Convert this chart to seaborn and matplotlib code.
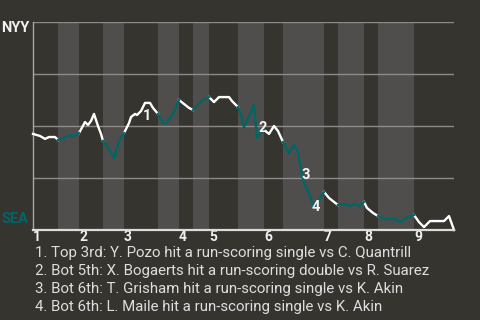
import matplotlib
matplotlib.use("Agg")
import matplotlib.pyplot as plt
import seaborn as sns
import pandas as pd
import numpy as np

# ---- data ----
# game progress (arbitrary units along the x axis) and NYY win probability (%)
progress = [0, 7, 12, 16, 22, 25,
            31, 35, 37, 39, 43, 46,
            52, 55, 58, 61, 65, 68, 70,
            76, 81, 86, 91,
            96, 98, 102, 104, 108, 112, 117, 120, 125,
            130, 133, 138, 142, 146,
            151, 156, 160,
            165, 170, 176,
            181, 186, 196, 199, 205,
            208, 211, 215, 221, 224, 228, 231,
            236, 241, 245, 250,
            256, 261, 265, 269, 272, 277, 281, 291,
            296, 301, 305,
            312, 317, 322, 326, 331,
            334, 340, 345,
            352, 362, 367, 373, 381,
            386, 391, 397, 411, 416, 421]
nyy_wp = [46.2, 45.2, 43.8, 44.7, 44.7, 43.3,
          44.2, 45.2, 45.7, 44.7, 45.7, 46.6,
          51.9, 50.5, 52.4, 55.8, 50.0, 46.2, 42.8,
          38.9, 34.6, 42.8, 46.6,
          51.4, 54.3, 55.8, 55.3, 57.2, 61.1, 61.1, 58.7, 55.8,
          51.4, 51.4, 54.3, 57.7, 62.5,
          60.6, 58.7, 57.7,
          60.1, 62.5, 63.9,
          61.5, 63.9, 63.9, 62.0, 59.1,
          55.3, 49.5, 53.4, 60.1, 44.2, 47.1, 48.1,
          46.2, 50.0, 47.6, 42.3,
          37.0, 40.9, 37.5, 26.4, 21.6, 16.3, 11.1, 18.3,
          15.4, 13.5, 12.0,
          12.5, 11.5, 12.5, 11.5, 13.5,
          10.6, 8.2, 6.7,
          5.3, 5.3, 3.8, 5.8, 7.2,
          3.8, 1.4, 4.3, 4.3, 6.7, 0.0]

# half-inning boundaries along the progress axis
top_starts = [0, 46, 91, 146, 176, 231, 291, 331, 381]
bot_starts = [25, 70, 125, 160, 205, 250, 305, 345]
game_end = 421
inning_labels = ["1", "2", "3", "4", "5", "6", "7", "8", "9"]

# key plays: index into the arrays above and their descriptions
event_idx = [28, 52, 62, 65]
event_text = [
    "1. Top 3rd: Y. Pozo hit a run-scoring single vs C. Quantrill",
    "2. Bot 5th: X. Bogaerts hit a run-scoring double vs R. Suarez",
    "3. Bot 6th: T. Grisham hit a run-scoring single vs K. Akin",
    "4. Bot 6th: L. Maile hit a run-scoring single vs K. Akin",
]
team_top = "NYY"
team_bottom = "SEA"

# ---- styling ----
BG = "#36342f"
BAND = "#4f4e4c"
TEAL = "#006666"
WHITE = "#ffffff"
GRID = "#8c8b88"
TXT = "#dedede"

plt.rcParams["font.family"] = ["Roboto", "DejaVu Sans"]

fig = plt.figure(figsize=(4.8, 3.2), dpi=100, facecolor=BG)
ax = fig.add_axes([33 / 480, 90 / 320, 421 / 480, 208 / 320])
ax.set_facecolor(BG)

# build half-inning segments
bounds = sorted([(s, "top") for s in top_starts] + [(s, "bot") for s in bot_starts])
rows = []
for i, (start, half) in enumerate(bounds):
    end = bounds[i + 1][0] if i + 1 < len(bounds) else game_end
    for x, p in zip(progress, nyy_wp):
        if start <= x <= end:
            rows.append({"x": x, "p": p, "half": half, "seg": i})
    if half == "bot":
        ax.axvspan(start, end, color=BAND, lw=0, zorder=0.5)
df = pd.DataFrame(rows)

for yv in [25, 50, 75, 100]:
    ax.axhline(yv, color=GRID, lw=1.0, zorder=1.0)

sns.lineplot(data=df, x="x", y="p", hue="half", units="seg", estimator=None,
             palette={"top": WHITE, "bot": TEAL}, legend=False, lw=1.7,
             ax=ax, zorder=3, clip_on=False)

ax.set_xlim(0, game_end)
ax.set_ylim(0, 100)
ax.set_xticks([])
ax.set_yticks([])
ax.set_xlabel("")
ax.set_ylabel("")
for s in ["top", "right"]:
    ax.spines[s].set_visible(False)
ax.spines["left"].set_color("#a9a8a5")
ax.spines["left"].set_linewidth(1.0)
ax.spines["bottom"].set_color("#dcdcdc")
ax.spines["bottom"].set_linewidth(1.6)
ax.spines["bottom"].set_zorder(4)

# event markers
offsets = [(2, -13), (6, 10), (4, 0), (2, 0)]
for k, (idx, off) in enumerate(zip(event_idx, offsets)):
    ax.annotate(str(k + 1), xy=(progress[idx], nyy_wp[idx]), xytext=off,
                textcoords="offset pixels", ha="center", va="center",
                color="#f4f4f4", fontsize=10.5, fontweight="bold", zorder=5)

# inning labels
for start, lab in zip(top_starts, inning_labels):
    ax.text(start, -3.3, lab, ha="left", va="center", color="#f0f0f0",
            fontsize=10, fontweight="bold", clip_on=False)

# team labels
fig.text(30 / 480, 1 - 28 / 320, team_top, ha="right", va="center",
         color="#f0f0f0", fontsize=10.5, fontweight="bold")
fig.text(29 / 480, 1 - 219 / 320, team_bottom, ha="right", va="center",
         color=TEAL, fontsize=10.5, fontweight="bold")

# event descriptions
for j, t in enumerate(event_text):
    fig.text(35 / 480, 1 - (252.5 + 18.2 * j) / 320, t, ha="left", va="center",
             color=TXT, fontsize=10.8)

fig.savefig("out.png", dpi=100, facecolor=BG)
